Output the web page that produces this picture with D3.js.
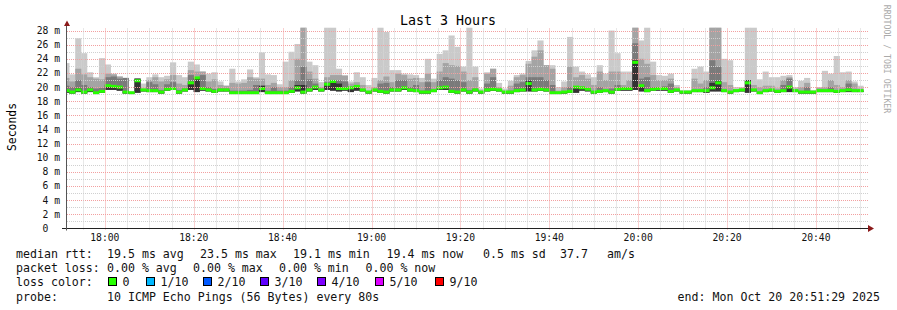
<!DOCTYPE html>
<html>
<head>
<meta charset="utf-8">
<script src="https://cdn.jsdelivr.net/npm/d3@7"></script>
<style>
  body { margin: 0; background: #fff; }
  svg { display: block; font-family: "DejaVu Sans Mono", monospace; }
</style>
</head>
<body>
<svg id="chart" width="897" height="310"></svg>
<script>
// smokeping style graph, 10 pings every 80s, values in ms
const endTime = new Date(2025, 9, 20, 20, 51, 29);
const firstStep = new Date(2025, 9, 20, 17, 50, 40);
const stepSeconds = 80;

// top of outer smoke band (max ping)
const smokeMax = [
  23.4,21.8,26.9,24.8,22.1,21.4,24.1,23.2,21.9,21.5,21.3,19.4,21.2,20.5,21.4,21.8,21.4,21.6,23.5,21.7,21.4,23.6,23.2,
  22.2,21.9,22.1,20.8,20.2,22.6,20.8,21.1,22.5,21.4,24.9,21.8,21.7,20.4,23.6,25.0,26.1,28.4,23.6,23.1,20.7,28.4,28.4,
  22.6,21.7,20.8,22.1,21.4,20.3,21.3,28.4,27.8,22.4,22.4,21.9,21.8,21.7,21.3,24.0,21.2,24.7,25.2,27.3,25.7,22.9,28.4,
  22.9,19.8,22.1,22.6,20.6,19.8,20.9,21.7,21.9,23.7,25.2,26.6,23.1,23.1,20.0,20.8,27.1,22.9,22.2,21.8,21.4,23.1,21.9,
  28.0,24.8,22.2,22.2,28.4,26.6,28.4,23.6,21.7,21.6,21.9,20.3,19.6,19.6,22.6,22.9,22.2,28.4,28.4,24.0,23.8,20.0,20.0,
  28.4,28.4,21.1,22.2,21.4,21.4,21.6,21.7,20.0,20.9,21.3,19.6,20.0,22.3,21.9,24.4,22.1,22.2,20.8,20.2
];
// second band
const smokeMid = [
  21.3,20.8,22.6,21.8,21.4,21.2,21.1,21.9,21.8,21.5,21.3,19.3,21.2,19.8,21.0,21.4,20.8,21.1,21.7,20.5,20.3,22.4,22.2,
  22.2,20.8,21.1,20.3,20.2,20.6,20.5,20.6,21.4,21.2,21.2,20.3,20.6,20.0,20.0,21.0,24.0,28.4,22.2,21.2,20.0,21.4,21.7,
  21.7,21.6,20.5,20.7,20.3,19.5,20.0,21.0,21.5,20.7,21.9,21.7,21.2,21.3,20.7,21.9,20.7,22.2,23.4,23.1,23.0,22.2,21.0,
  21.4,19.5,21.9,22.6,20.0,19.5,20.2,21.4,21.7,23.3,24.3,25.2,23.1,22.6,19.5,20.0,22.9,21.4,21.7,21.2,20.3,22.2,21.0,
  22.2,22.2,20.3,21.0,28.4,24.0,23.3,21.7,21.0,21.0,21.2,20.0,19.4,19.4,21.2,20.5,21.0,28.4,28.4,20.7,20.3,19.7,19.8,
  21.0,20.3,20.0,20.2,20.2,19.8,21.0,21.4,19.8,20.0,20.6,19.4,19.9,20.0,21.0,20.3,20.0,21.0,20.5,19.8
];
// third band
const smokeDark = [
  20.2,20.0,21.0,20.3,20.0,19.8,19.9,21.4,21.5,21.2,21.3,19.2,21.2,19.6,20.7,20.4,19.6,20.4,20.7,19.6,19.8,21.7,21.2,
  21.7,20.0,19.7,19.8,19.8,19.5,19.5,19.5,19.6,20.3,20.2,19.5,20.0,19.5,19.5,20.0,21.0,22.9,21.1,20.5,19.6,20.7,21.0,
  21.0,20.8,20.0,20.0,19.6,19.3,19.6,20.5,20.6,20.0,21.0,21.0,20.0,20.3,19.5,20.7,19.5,21.0,21.4,21.2,21.0,20.7,19.6,
  19.8,19.3,20.5,21.4,19.6,19.3,19.5,20.5,20.7,21.4,21.4,21.4,21.0,20.3,19.2,19.3,20.0,20.0,20.0,19.8,19.3,20.0,19.5,
  19.8,20.3,19.8,19.8,26.2,21.2,21.4,20.0,19.8,20.1,20.5,19.6,19.3,19.3,19.5,19.5,20.0,23.8,22.9,19.5,19.3,19.5,19.6,
  21.0,19.6,19.2,19.5,19.6,19.4,20.3,21.2,19.5,19.3,20.0,19.3,19.5,19.5,20.0,19.4,19.5,20.5,19.5,19.5
];
// inner core band
const smokeCore = [
  19.5,19.3,19.8,19.4,19.6,19.2,19.4,20.3,20.2,20.1,19.4,19.2,21.2,19.6,19.5,19.5,19.3,19.7,19.8,19.3,19.6,20.6,21.3,
  19.8,19.6,19.6,19.6,19.6,19.2,19.2,19.2,19.2,19.2,20.2,19.2,19.2,19.2,19.2,19.4,20.3,20.3,19.6,20.0,19.6,20.4,20.8,
  20.5,19.8,19.9,20.1,19.6,19.3,19.6,19.4,19.3,19.6,19.6,19.9,19.6,19.5,19.3,19.3,19.5,19.9,20.0,19.4,19.3,19.6,19.3,
  19.6,19.3,19.6,19.7,19.6,19.3,19.3,19.5,19.6,20.9,19.6,19.7,19.6,19.2,19.2,19.3,19.4,20.0,19.9,19.7,19.3,19.4,19.5,
  19.3,19.7,19.8,19.8,23.8,20.3,19.5,19.7,19.8,19.8,19.4,19.6,19.3,19.3,19.5,19.5,19.5,20.6,20.9,19.5,19.3,19.5,19.6,
  21.0,19.6,19.2,19.5,19.6,19.4,19.5,20.0,19.5,19.3,19.3,19.3,19.5,19.5,19.5,19.4,19.5,19.6,19.5,19.5
];
// median rtt
const medianRtt = [
  19.5,19.3,19.6,19.3,19.6,19.2,19.4,20.2,20.1,20.0,19.3,19.2,20.9,19.6,19.5,19.5,19.3,19.7,19.8,19.3,19.6,20.6,21.3,
  19.8,19.6,19.4,19.6,19.6,19.2,19.2,19.2,19.2,19.2,19.8,19.2,19.2,19.2,19.2,19.4,19.9,19.3,19.6,20.0,19.6,20.4,20.8,
  19.8,19.8,19.9,20.1,19.6,19.3,19.6,19.4,19.3,19.6,19.6,19.9,19.6,19.5,19.3,19.3,19.5,19.9,20.0,19.4,19.3,19.6,19.3,
  19.6,19.3,19.6,19.7,19.6,19.3,19.3,19.5,19.6,20.5,19.6,19.7,19.6,19.2,19.2,19.3,19.4,20.0,19.9,19.7,19.3,19.4,19.5,
  19.3,19.7,19.8,19.8,23.5,20.2,19.5,19.7,19.8,19.8,19.4,19.6,19.3,19.3,19.5,19.5,19.5,19.9,20.6,19.5,19.3,19.5,19.6,
  20.6,19.6,19.2,19.5,19.6,19.4,19.5,20.0,19.5,19.3,19.3,19.3,19.5,19.5,19.5,19.4,19.5,19.6,19.5,19.5
];
// min ping
const minRtt = [
  19.2,19.1,19.3,19.1,19.3,19.1,19.2,19.6,19.6,19.5,19.1,19.1,19.2,19.4,19.3,19.3,19.1,19.5,19.6,19.1,19.4,19.6,19.3,
  19.5,19.4,19.2,19.4,19.4,19.1,19.1,19.1,19.1,19.1,19.3,19.1,19.1,19.1,19.1,19.2,19.4,19.1,19.4,19.6,19.4,19.6,19.5,
  19.4,19.5,19.3,19.5,19.4,19.1,19.4,19.2,19.1,19.4,19.4,19.6,19.4,19.3,19.1,19.1,19.3,19.6,19.6,19.2,19.1,19.4,19.1,
  19.4,19.1,19.4,19.5,19.4,19.1,19.1,19.3,19.4,19.4,19.4,19.5,19.4,19.1,19.1,19.1,19.2,19.2,19.5,19.4,19.1,19.2,19.3,
  19.1,19.5,19.5,19.5,19.6,19.4,19.3,19.5,19.5,19.5,19.2,19.4,19.1,19.1,19.3,19.3,19.2,19.4,19.4,19.3,19.1,19.3,19.4,
  19.2,19.4,19.1,19.3,19.4,19.2,19.3,19.3,19.3,19.1,19.1,19.1,19.3,19.3,19.3,19.2,19.3,19.3,19.3,19.3
];

const yTicks = [0, 2, 4, 6, 8, 10, 12, 14, 16, 18, 20, 22, 24, 26, 28];
const lossLabels = ["0", "1/10", "2/10", "3/10", "4/10", "5/10", "9/10"];
const lossColors = ["#26ff00", "#00b8ff", "#0059ff", "#5e00ff", "#7e00ff", "#dd00ff", "#ff0000"];

const svg = d3.select("#chart");
const plotLeft = 67, plotRight = 867, plotTop = 28.5, plotBottom = 228.5;

const xScale = d3.scaleTime()
    .domain([d3.timeHour.offset(endTime, -3), endTime])
    .range([plotLeft, plotRight]);
const yScale = d3.scaleLinear()
    .domain([0, 28.29])
    .range([plotBottom, plotTop]);

svg.append("defs").append("clipPath").attr("id", "plot")
  .append("rect").attr("x", plotLeft).attr("y", 0).attr("width", plotRight - plotLeft).attr("height", plotBottom);

const steps = medianRtt.map((m, i) => {
    const t0 = d3.timeSecond.offset(firstStep, i * stepSeconds);
    const t1 = d3.timeSecond.offset(firstStep, (i + 1) * stepSeconds);
    return { t0: t0, t1: t1, max: smokeMax[i], mid: smokeMid[i], dark: smokeDark[i], core: smokeCore[i], med: m, min: minRtt[i] };
});

const plot = svg.append("g").attr("clip-path", "url(#plot)");

// smoke bands, outer first
const bands = [["max", "#cacaca"], ["mid", "#a4a4a4"], ["dark", "#7a7a7a"], ["core", "#333333"]];
bands.forEach(function(b) {
    plot.append("g").selectAll("rect").data(steps).join("rect")
        .attr("x", d => xScale(d.t0))
        .attr("width", d => xScale(d.t1) - xScale(d.t0) + 0.2)
        .attr("y", d => yScale(d[b[0]]))
        .attr("height", d => yScale(d.min) - yScale(d[b[0]]))
        .attr("fill", b[1]);
});

// median, loss colour (all 0 loss)
plot.append("g").selectAll("rect").data(steps).join("rect")
    .attr("x", d => xScale(d.t0))
    .attr("width", d => xScale(d.t1) - xScale(d.t0) + 0.2)
    .attr("y", d => yScale(d.med) - 1.5)
    .attr("height", 3)
    .attr("fill", lossColors[0]);

// grid
const grid = svg.append("g");
d3.range(1, 29).forEach(function(v) {
    const major = v % 2 === 0;
    grid.append("line")
        .attr("x1", plotLeft).attr("x2", plotRight + 1)
        .attr("y1", Math.round(yScale(v)) + 0.5).attr("y2", Math.round(yScale(v)) + 0.5)
        .attr("stroke", major ? "#f2a0a0" : "#d0d0d0")
        .attr("stroke-dasharray", "1,1");
});
xScale.ticks(d3.timeMinute.every(5)).forEach(function(t) {
    const major = t.getMinutes() % 20 === 0;
    const x = Math.round(xScale(t)) + 0.5;
    grid.append("line")
        .attr("x1", x).attr("x2", x)
        .attr("y1", plotTop).attr("y2", plotBottom + 2)
        .attr("stroke", major ? "#f2a0a0" : "#d0d0d0")
        .attr("stroke-dasharray", "1,1");
});

// axes
svg.append("line").attr("x1", 62).attr("x2", plotRight + 2).attr("y1", plotBottom).attr("y2", plotBottom)
    .attr("stroke", "#222").attr("stroke-width", 1);
svg.append("line").attr("x1", plotLeft - 0.5).attr("x2", plotLeft - 0.5).attr("y1", plotBottom + 2).attr("y2", 24)
    .attr("stroke", "#555").attr("stroke-width", 1);
svg.append("path").attr("d", "M64,26 L70,26 L67,20.5 Z").attr("fill", "#8b1a1a");
svg.append("path").attr("d", "M868,225 L868,232 L874,228.5 Z").attr("fill", "#8b1a1a");

// y labels
svg.append("g").selectAll("text").data(yTicks).join("text")
    .attr("x", 60)
    .attr("y", d => yScale(d))
    .attr("dy", "0.35em")
    .attr("text-anchor", "end")
    .attr("font-size", "9.7px")
    .attr("fill", "#111")
    .style("white-space", "pre")
    .text(d => d === 0 ? "0\u00a0\u00a0" : d + " m");

// x labels
svg.append("g").selectAll("text").data(xScale.ticks(d3.timeMinute.every(20))).join("text")
    .attr("x", d => xScale(d))
    .attr("y", 237.5)
    .attr("dy", "0.35em")
    .attr("text-anchor", "middle")
    .attr("font-size", "9.7px")
    .attr("fill", "#111")
    .text(d3.timeFormat("%H:%M"));

svg.append("text")
    .attr("x", 448).attr("y", 20).attr("dy", "0.35em")
    .attr("text-anchor", "middle")
    .attr("font-size", "13.3px")
    .text("Last 3 Hours");

svg.append("text")
    .attr("transform", "translate(12,127) rotate(-90)")
    .attr("dy", "0.35em")
    .attr("text-anchor", "middle")
    .attr("font-size", "11.4px")
    .text("Seconds");

svg.append("text")
    .attr("transform", "translate(887,59) rotate(90)")
    .attr("dy", "0.35em")
    .attr("text-anchor", "middle")
    .attr("font-size", "8.2px")
    .attr("fill", "#aaaaaa")
    .text("RRDTOOL / TOBI OETIKER");

// legend
const legend = svg.append("g").attr("font-size", "11.6px").attr("fill", "#111");
function leg(x, y, s) {
    legend.append("text").attr("x", x).attr("y", y).attr("dy", "0.35em").text(s);
}
leg(16, 254, "median rtt:");
leg(107, 254, "19.5 ms avg");
leg(200, 254, "23.5 ms max");
leg(293, 254, "19.1 ms min");
leg(386.5, 254, "19.4 ms now");
leg(483, 254, "0.5 ms sd");
leg(560, 254, "37.7");
leg(607, 254, "am/s");

leg(16, 268.3, "packet loss:");
leg(107, 268.3, "0.00 % avg");
leg(193, 268.3, "0.00 % max");
leg(279, 268.3, "0.00 % min");
leg(365.5, 268.3, "0.00 % now");

leg(16, 281.7, "loss color:");
const boxX = [108, 146, 203, 260, 317, 375, 435];
lossLabels.forEach(function(l, i) {
    legend.append("rect")
        .attr("x", boxX[i] + 0.5).attr("y", 277.5)
        .attr("width", 8).attr("height", 8)
        .attr("fill", lossColors[i])
        .attr("stroke", "#000").attr("stroke-width", 1);
    leg(boxX[i] + 14.5, 281.7, l);
});

leg(16, 296.7, "probe:");
leg(107, 296.7, "10 ICMP Echo Pings (56 Bytes) every 80s");
legend.append("text").attr("x", 880).attr("y", 296.7).attr("dy", "0.35em")
    .attr("text-anchor", "end")
    .text("end: Mon Oct 20 20:51:29 2025");
</script>
</body>
</html>
